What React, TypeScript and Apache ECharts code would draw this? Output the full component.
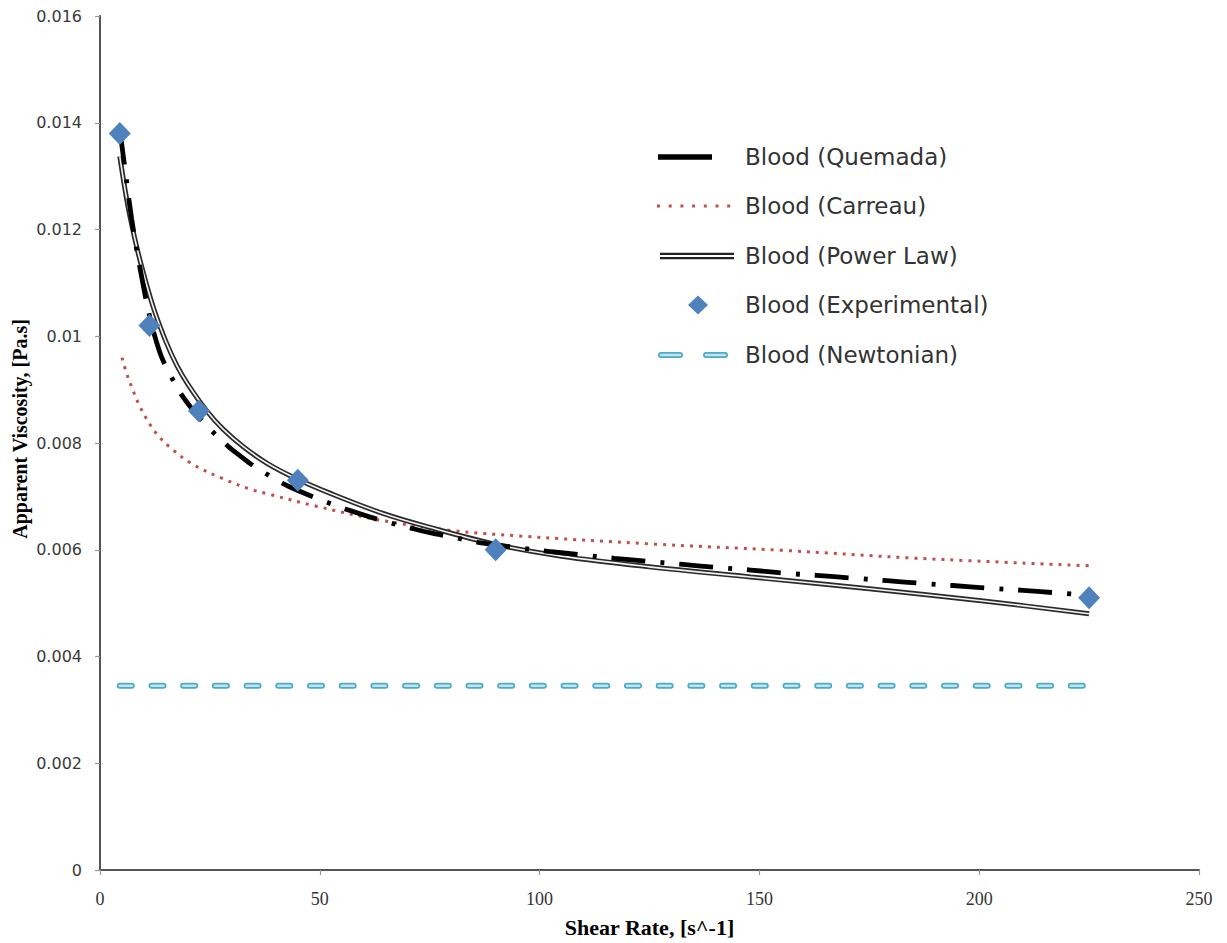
import React, { useEffect, useRef } from "react";
import * as echarts from "echarts";

// ---- Data ----
const expShear = [4.5, 11.25, 22.5, 45, 90, 225];
const expVisc = [0.0138, 0.0102, 0.0086, 0.0073, 0.006, 0.0051];

const quemadaShear = [4.5, 5.1, 7.2, 9.5, 11.5, 13.6, 15.2, 19, 24, 29, 32, 35.3, 41.7, 45.3, 50, 56, 64, 71, 75, 80, 86, 94, 102, 110, 117, 125, 132, 140, 148, 156, 163, 171, 179, 187, 194, 202, 210, 218, 225];
const quemadaVisc = [0.01385, 0.0135, 0.0122, 0.0111, 0.0103, 0.0097, 0.0094, 0.00885, 0.00835, 0.00795, 0.00775, 0.00755, 0.00724, 0.0071, 0.00694, 0.00676, 0.00655, 0.0064, 0.00632, 0.00624, 0.00614, 0.00605, 0.00597, 0.0059, 0.00584, 0.00578, 0.00573, 0.00567, 0.00562, 0.00556, 0.00552, 0.00547, 0.00542, 0.00537, 0.00533, 0.00528, 0.00524, 0.00519, 0.00515];

const carreauShear = [5, 6, 7.2, 8.7, 10.6, 12.9, 15.9, 20.9, 28, 34, 38, 49, 64, 80, 95, 125, 155, 186, 225];
const carreauVisc = [0.0096, 0.00932, 0.00905, 0.00875, 0.00845, 0.00817, 0.00792, 0.00761, 0.00733, 0.00714, 0.00705, 0.00682, 0.00655, 0.00636, 0.00626, 0.00611, 0.00599, 0.00584, 0.0057];

const powerShear = [4.5, 6, 7.2, 8.5, 9.5, 11, 12.5, 15, 17.5, 20, 24.3, 28, 32.6, 38, 44.7, 52.3, 64.4, 75, 90, 105, 125, 148, 175, 201, 225];
const powerVisc = [0.01337, 0.0126, 0.0121, 0.01162, 0.0113, 0.01085, 0.01045, 0.0099, 0.00945, 0.0091, 0.0086, 0.00826, 0.00793, 0.00762, 0.00733, 0.00706, 0.00668, 0.00642, 0.0061, 0.00588, 0.00568, 0.00549, 0.00527, 0.00504, 0.0048];

const newtonShear = [4.5, 225];
const newtonVisc = [0.00345, 0.00345];

const xTicks = { min: 0, max: 250, interval: 50 };
const yTicks = { min: 0, max: 0.016, interval: 0.002 };

const seriesNames = [
  "Blood (Quemada)",
  "Blood (Carreau)",
  "Blood (Power Law)",
  "Blood (Experimental)",
  "Blood (Newtonian)",
];

const xTitle = "Shear Rate, [s^-1]";
const yTitle = "Apparent Viscosity, [Pa.s]";

const pairs = (xs: number[], ys: number[]) => xs.map((x, i) => [x, ys[i]]);

export default function App() {
  const ref = useRef<HTMLDivElement>(null);

  useEffect(() => {
    if (!ref.current) return;
    const chart = echarts.init(ref.current, null, { renderer: "svg" });

    const textX = 745;
    const rowY = [157, 206, 256, 305, 355];
    const legendFont = '23px "DejaVu Sans"';

    const legendGraphics: any[] = [
      { type: "line", shape: { x1: 658, y1: rowY[0], x2: 712, y2: rowY[0] }, style: { stroke: "#000", lineWidth: 5.5 } },
      { type: "line", shape: { x1: 657, y1: rowY[1], x2: 732, y2: rowY[1] }, style: { stroke: "#c0504d", lineWidth: 3, lineDash: [3, 8.7] } },
      { type: "line", shape: { x1: 660, y1: rowY[2], x2: 734, y2: rowY[2] }, style: { stroke: "#222", lineWidth: 6.5 } },
      { type: "line", shape: { x1: 660, y1: rowY[2], x2: 734, y2: rowY[2] }, style: { stroke: "#fff", lineWidth: 2.2 } },
      { type: "polygon", shape: { points: [[698, rowY[3] - 9.5], [708, rowY[3]], [698, rowY[3] + 9.5], [688, rowY[3]]] }, style: { fill: "#4f81bd" } },
      { type: "line", shape: { x1: 661, y1: rowY[4], x2: 726, y2: rowY[4] }, style: { stroke: "#4bacc6", lineWidth: 6, lineDash: [19, 26], lineCap: "round" } },
      { type: "line", shape: { x1: 661, y1: rowY[4], x2: 726, y2: rowY[4] }, style: { stroke: "#c2e4ee", lineWidth: 2.5, lineDash: [19, 26], lineCap: "round" } },
    ];
    seriesNames.forEach((n, i) => {
      legendGraphics.push({
        type: "text",
        x: textX,
        y: rowY[i],
        style: { text: n, font: legendFont, fill: "#333", textVerticalAlign: "middle", textAlign: "left" },
      });
    });

    const smoothLine = { showSymbol: false, smooth: 0.35 };

    const option: any = {
      animation: false,
      backgroundColor: "#fff",
      grid: { left: 100, right: 28, top: 16, bottom: 64, show: false },
      xAxis: [
        {
          type: "value",
          min: xTicks.min,
          max: xTicks.max,
          interval: xTicks.interval,
          name: xTitle,
          nameLocation: "middle",
          nameGap: 46,
          nameTextStyle: { fontFamily: "Liberation Serif", fontWeight: "bold", fontSize: 22, color: "#000" },
          axisLine: { show: true, onZero: false, lineStyle: { color: "#999", width: 1.5 } },
          axisTick: { show: true, length: 5, lineStyle: { color: "#999", width: 1.2 } },
          axisLabel: { margin: 20, fontFamily: "Liberation Sans Narrow", fontSize: 18, color: "#333" },
          splitLine: { show: false },
        },
        {
          type: "value",
          position: "top",
          min: xTicks.min,
          max: xTicks.max,
          axisLine: { show: true, lineStyle: { color: "#555", width: 1.8 } },
          axisTick: { show: false },
          axisLabel: { show: false },
          splitLine: { show: false },
        },
      ],
      yAxis: [
        {
          type: "value",
          min: yTicks.min,
          max: yTicks.max,
          interval: yTicks.interval,
          axisLine: { show: true, onZero: false, lineStyle: { color: "#999", width: 1.5 } },
          axisTick: { show: true, length: 5, lineStyle: { color: "#999", width: 1.2 } },
          axisLabel: {
            margin: 18,
            fontFamily: "DejaVu Sans",
            fontSize: 16,
            color: "#3a3a3a",
            formatter: (v: number) => String(parseFloat(v.toFixed(3))),
          },
          splitLine: { show: false },
        },
        {
          type: "value",
          position: "right",
          min: yTicks.min,
          max: yTicks.max,
          axisLine: { show: true, lineStyle: { color: "#555", width: 2 } },
          axisTick: { show: false },
          axisLabel: { show: false },
          splitLine: { show: false },
        },
      ],
      graphic: [
        {
          type: "text",
          x: 20,
          y: 429,
          rotation: Math.PI / 2,
          style: {
            text: yTitle,
            font: 'bold 20px "Liberation Serif"',
            fill: "#000",
            textAlign: "center",
            textVerticalAlign: "middle",
          },
        },
        ...legendGraphics,
      ],
      series: [
        {
          name: seriesNames[4] + " outline",
          type: "line",
          data: pairs(newtonShear, newtonVisc),
          showSymbol: false,
          lineStyle: { color: "#4bacc6", width: 6, type: [12, 19.7], cap: "round" },
          z: 2,
        },
        {
          name: seriesNames[4],
          type: "line",
          data: pairs(newtonShear, newtonVisc),
          showSymbol: false,
          lineStyle: { color: "#c2e4ee", width: 2.5, type: [12, 19.7], cap: "round" },
          z: 3,
        },
        {
          name: seriesNames[1],
          type: "line",
          data: pairs(carreauShear, carreauVisc),
          ...smoothLine,
          lineStyle: { color: "#c0504d", width: 3, type: [3, 6] },
          z: 4,
        },
        {
          name: seriesNames[2] + " outer",
          type: "line",
          data: pairs(powerShear, powerVisc),
          ...smoothLine,
          lineStyle: { color: "#2a2a2a", width: 5 },
          z: 5,
        },
        {
          name: seriesNames[2],
          type: "line",
          data: pairs(powerShear, powerVisc),
          ...smoothLine,
          lineStyle: { color: "#f2f2f2", width: 1.6 },
          z: 6,
        },
        {
          name: seriesNames[0],
          type: "line",
          data: pairs(quemadaShear, quemadaVisc),
          ...smoothLine,
          lineStyle: { color: "#000", width: 4.8, type: [34, 15, 4, 15] },
          z: 7,
        },
        {
          name: seriesNames[3],
          type: "scatter",
          data: pairs(expShear, expVisc),
          symbol: "diamond",
          symbolSize: [22, 23],
          itemStyle: { color: "#4f81bd", opacity: 1 },
          z: 8,
        },
      ],
    };

    chart.setOption(option);
    return () => chart.dispose();
  }, []);

  return (
    <div
      ref={ref}
      style={{ position: "absolute", left: 0, top: 0, width: 1227, height: 943 }}
    />
  );
}
